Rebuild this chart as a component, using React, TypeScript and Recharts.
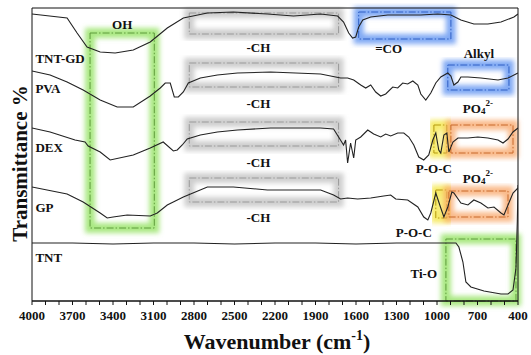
import React from 'react';
import { LineChart, Line, XAxis, YAxis, ReferenceArea, ReferenceDot, Label } from 'recharts';

const FONT = '"Liberation Serif", "Times New Roman", serif';

// Wavenumber ticks (every 100 cm-1) and labelled ticks
const TICKS = [4000, 3900, 3800, 3700, 3600, 3500, 3400, 3300, 3200, 3100, 3000, 2900, 2800, 2700, 2600, 2500, 2400, 2300, 2200, 2100, 2000, 1900, 1800, 1700, 1600, 1500, 1400, 1300, 1200, 1100, 1000, 900, 800, 700, 600, 500, 400];
const LABELED_TICKS = [4000, 3700, 3400, 3100, 2800, 2500, 2200, 1900, 1600, 1300, 1000, 700, 400];

// Spectra: [wavenumber, transmittance (a.u., stacked)]
const TNT_GD: [number, number][] = [
  [4000, 287], [3740, 283], [3666, 268], [3592, 254], [3495, 249], [3384, 248], [3250, 251], [3124, 259], [2998, 273], [2879, 283], [2701, 288], [2508, 289], [2256, 287], [2063, 285], [1862, 287], [1736, 285], [1692, 279], [1654, 268], [1625, 263], [1602, 264], [1580, 274], [1550, 281], [1491, 284], [1365, 286], [1120, 286], [994, 287], [897, 286], [823, 281], [727, 277], [623, 277], [526, 279], [430, 284], [400, 287],
];
const PVA: [number, number][] = [
  [4000, 230], [3866, 226], [3740, 219], [3621, 211], [3495, 201], [3369, 194], [3250, 194], [3124, 205], [3050, 213], [3013, 218], [2976, 218], [2946, 204], [2916, 204], [2879, 209], [2842, 218], [2753, 223], [2627, 226], [2478, 228], [2233, 229], [1862, 227], [1714, 223], [1662, 223], [1617, 221], [1565, 216], [1528, 213], [1491, 216], [1454, 209], [1417, 205], [1380, 207], [1328, 214], [1291, 213], [1254, 218], [1217, 217], [1179, 220], [1142, 216], [1120, 207], [1083, 201], [1046, 208], [1009, 218], [972, 224], [920, 228], [897, 225], [875, 216], [845, 219], [823, 224], [771, 224], [675, 223], [548, 221], [474, 223], [415, 227], [400, 228],
];
const DEX: [number, number][] = [
  [4000, 173], [3866, 169], [3681, 161], [3607, 159], [3584, 155], [3495, 149], [3421, 141], [3250, 146], [3124, 153], [3028, 159], [2953, 150], [2924, 151], [2887, 156], [2850, 162], [2753, 166], [2627, 169], [2478, 171], [2233, 173], [1862, 173], [1766, 172], [1729, 164], [1692, 156], [1677, 161], [1662, 138], [1640, 158], [1617, 143], [1602, 161], [1565, 164], [1513, 171], [1469, 167], [1417, 164], [1380, 167], [1343, 165], [1291, 168], [1246, 168], [1209, 164], [1172, 156], [1135, 144], [1098, 141], [1061, 146], [1031, 161], [1009, 168], [987, 151], [972, 148], [949, 166], [927, 168], [912, 149], [882, 159], [845, 163], [771, 163], [697, 164], [623, 163], [548, 161], [511, 158], [474, 162], [437, 169], [400, 173],
];
const GP: [number, number][] = [
  [4000, 114], [3740, 107], [3621, 99], [3495, 88], [3443, 83], [3399, 84], [3295, 86], [3124, 85], [3072, 88], [2998, 96], [2879, 104], [2701, 114], [2508, 114], [2256, 111], [1862, 111], [1766, 106], [1714, 102], [1662, 103], [1588, 102], [1491, 103], [1395, 105], [1343, 106], [1306, 102], [1217, 101], [1142, 94], [1098, 84], [1068, 81], [1046, 88], [1009, 108], [972, 93], [949, 84], [920, 94], [890, 109], [875, 108], [823, 98], [771, 96], [727, 101], [675, 98], [623, 93], [578, 94], [526, 88], [504, 86], [474, 96], [437, 108], [400, 113],
];
const TNT: [number, number][] = [
  [4000, 58], [3700, 58], [3400, 57], [3100, 58], [2800, 58], [2500, 57], [2200, 58], [1900, 58], [1600, 57], [1300, 58], [1000, 58], [860, 58], [838, 54], [808, 39], [786, 19], [749, 14], [652, 10], [526, 7], [474, 7], [437, 11], [415, 33], [405, 80], [400, 116],
];

const SERIES = [TNT_GD, PVA, DEX, GP, TNT];
const SERIES_NAMES = ['TNT-GD', 'PVA', 'DEX', 'GP', 'TNT'];

// Highlighted band regions [x1, x2, y1, y2]
const REGIONS: { x1: number; x2: number; y1: number; y2: number; kind: string }[] = [
  { x1: 3570, x2: 3094, y1: 73, y2: 268, kind: 'green' },
  { x1: 2835, x2: 1729, y1: 267, y2: 288, kind: 'gray' },
  { x1: 2835, x2: 1729, y1: 214, y2: 238, kind: 'gray' },
  { x1: 2835, x2: 1729, y1: 155, y2: 179, kind: 'gray' },
  { x1: 2835, x2: 1729, y1: 99, y2: 123, kind: 'gray' },
  { x1: 1580, x2: 897, y1: 262, y2: 289, kind: 'blue' },
  { x1: 920, x2: 467, y1: 211, y2: 236, kind: 'blue' },
  { x1: 1023, x2: 927, y1: 148, y2: 176, kind: 'yellow' },
  { x1: 897, x2: 437, y1: 148, y2: 176, kind: 'orange' },
  { x1: 1009, x2: 927, y1: 83, y2: 111, kind: 'yellow' },
  { x1: 912, x2: 474, y1: 84, y2: 110, kind: 'orange' },
  { x1: 934, x2: 415, y1: 0, y2: 62, kind: 'green' },
];

const GLOW: Record<string, { glow: string; line: string }> = {
  green: { glow: '#8ee05a', line: '#5f9c3c' },
  gray: { glow: '#bdbdbd', line: '#9a9a9a' },
  blue: { glow: '#5a8ff0', line: '#2f5fc4' },
  yellow: { glow: '#f4e43a', line: '#b59a10' },
  orange: { glow: '#f7a465', line: '#c8692a' },
};

// Annotation labels [wavenumber, y, text]
const CURVE_LABELS: [number, number, string][] = [
  [3975, 243, 'TNT-GD'], [3975, 213, 'PVA'], [3975, 154, 'DEX'], [3975, 94, 'GP'], [3975, 44, 'TNT'],
];
const BAND_LABELS: [number, number, string][] = [
  [3332, 277, 'OH'],
  [2323, 254, '-CH'], [2323, 198, '-CH'], [2323, 139, '-CH'], [2323, 84, '-CH'],
  [1358, 253, '=CO'], [690, 248, 'Alkyl'],
  [1023, 133, 'P-O-C'], [1172, 69, 'P-O-C'], [1098, 28, 'Ti-O'],
];
const PO4_LABELS: [number, number][] = [[697, 193], [697, 123]];

const toData = (pts: [number, number][]) => pts.map(([w, t]) => ({ w, t }));

const GlowRect = (kind: string, idx: number) => (props: any) => {
  const { x, y, width, height } = props;
  const c = GLOW[kind];
  const id = `blur-${idx}`;
  return (
    <g>
      <defs>
        <filter id={id} x="-30%" y="-30%" width="160%" height="160%">
          <feGaussianBlur stdDeviation="2.6" />
        </filter>
      </defs>
      <rect x={x} y={y} width={width} height={height} fill="none" stroke={c.glow} strokeWidth={10} strokeOpacity={0.75} filter={`url(#${id})`} />
      <rect x={x} y={y} width={width} height={height} fill="none" stroke={c.line} strokeWidth={1} strokeDasharray="7 2 1.5 2" />
    </g>
  );
};

const textShape = (text: string, anchor: 'start' | 'middle') => (props: any) => (
  <text x={props.cx} y={props.cy} textAnchor={anchor} dominantBaseline="central" fontFamily={FONT} fontWeight="bold" fontSize={13} fill="#111">
    {text}
  </text>
);

const po4Shape = (props: any) => (
  <text x={props.cx} y={props.cy} textAnchor="middle" dominantBaseline="central" fontFamily={FONT} fontWeight="bold" fontSize={13} fill="#111">
    <tspan>PO</tspan>
    <tspan fontSize={9} dy={3}>4</tspan>
    <tspan fontSize={9} dy={-8}>2-</tspan>
  </text>
);

const XTitle = (props: any) => {
  const vb = props.viewBox || { x: 32, y: 301, width: 486, height: 54 };
  return (
    <text x={vb.x + vb.width / 2 + 2} y={vb.y + 48} textAnchor="middle" fontFamily={FONT} fontWeight="bold" fontSize={22} fill="#111">
      Wavenumber (cm<tspan fontSize={14} dy={-9}>-1</tspan><tspan dy={9}>)</tspan>
    </text>
  );
};

const YTitle = (props: any) => {
  const vb = props.viewBox || { x: 0, y: 8, width: 32, height: 293 };
  const cx = vb.x + 20;
  const cy = vb.y + vb.height / 2 + 9;
  return (
    <text x={cx} y={cy} transform={`rotate(-90, ${cx}, ${cy})`} textAnchor="middle" dominantBaseline="central" fontFamily={FONT} fontWeight="bold" fontSize={21} fill="#111">
      Transmittance %
    </text>
  );
};

export default function App() {
  return (
    <div style={{ position: 'absolute', left: 0, top: 0, width: 531, height: 355, background: '#fff' }}>
      <LineChart width={531} height={355} margin={{ top: 8, right: 13, left: 0, bottom: 0 }}>
        <XAxis
          dataKey="w"
          type="number"
          domain={[400, 4000]}
          reversed
          allowDataOverflow
          ticks={TICKS}
          interval={0}
          height={54}
          tickSize={4}
          tickMargin={6}
          tickFormatter={(v: number) => (LABELED_TICKS.includes(v) ? String(v) : '')}
          tick={{ fontFamily: FONT, fontWeight: 'bold', fontSize: 13, fill: '#111' }}
          axisLine={{ stroke: '#111' }}
          tickLine={{ stroke: '#111' }}
        >
          <Label content={XTitle} />
        </XAxis>
        <YAxis type="number" domain={[0, 293]} width={32} tick={false} axisLine={false} tickLine={false}>
          <Label content={YTitle} />
        </YAxis>
        {REGIONS.map((r, i) => (
          <ReferenceArea key={`r${i}`} x1={r.x1} x2={r.x2} y1={r.y1} y2={r.y2} ifOverflow="visible" shape={GlowRect(r.kind, i)} />
        ))}
        {SERIES.map((s, i) => (
          <Line key={SERIES_NAMES[i]} name={SERIES_NAMES[i]} data={toData(s)} dataKey="t" type="linear" dot={false} activeDot={false} stroke="#222" strokeWidth={1.1} isAnimationActive={false} />
        ))}
        <ReferenceArea x1={4000} x2={400} y1={0} y2={293} fill="none" stroke="#111" strokeWidth={1} ifOverflow="visible" />
        {CURVE_LABELS.map(([w, y, t], i) => (
          <ReferenceDot key={`cl${i}`} x={w} y={y} r={0} ifOverflow="visible" shape={textShape(t, 'start')} />
        ))}
        {BAND_LABELS.map(([w, y, t], i) => (
          <ReferenceDot key={`bl${i}`} x={w} y={y} r={0} ifOverflow="visible" shape={textShape(t, 'middle')} />
        ))}
        {PO4_LABELS.map(([w, y], i) => (
          <ReferenceDot key={`po${i}`} x={w} y={y} r={0} ifOverflow="visible" shape={po4Shape} />
        ))}
      </LineChart>
    </div>
  );
}
